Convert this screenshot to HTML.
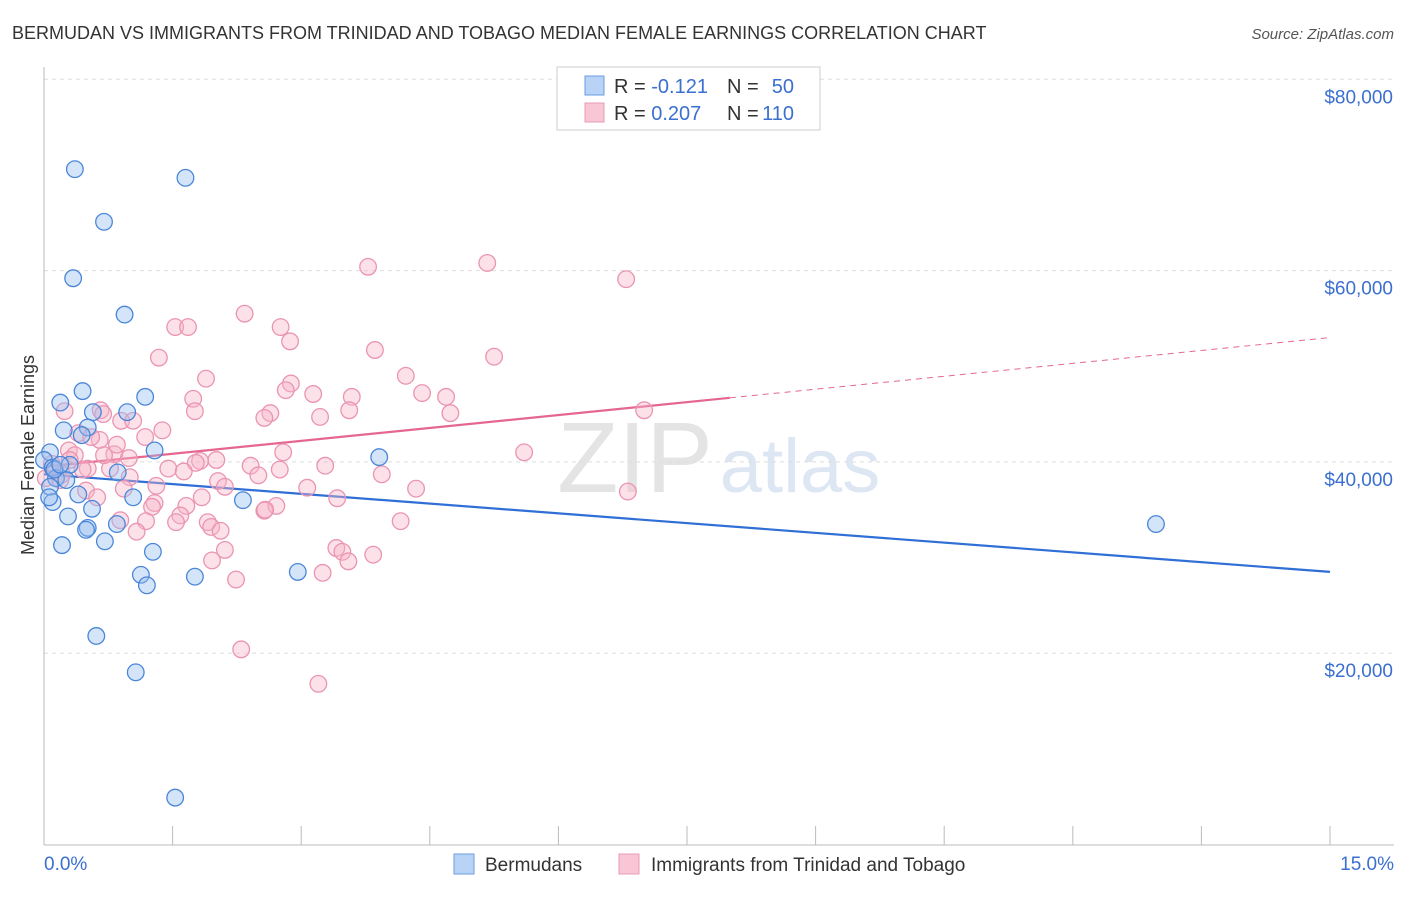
<!DOCTYPE html>
<html><head><meta charset="utf-8">
<style>
body{margin:0;background:#fff;font-family:"Liberation Sans",sans-serif;}
svg text{font-family:"Liberation Sans",sans-serif;}
</style></head><body>
<svg id="chart" width="1406" height="892">
<text x="12" y="39" font-size="18" fill="#333">BERMUDAN VS IMMIGRANTS FROM TRINIDAD AND TOBAGO MEDIAN FEMALE EARNINGS CORRELATION CHART</text>
<text x="1394" y="39" font-size="15" fill="#555" font-style="italic" text-anchor="end">Source: ZipAtlas.com</text>
<text x="635" y="492" font-size="100" fill="#e4e4e4" font-family="Liberation Serif" text-anchor="middle">ZIP</text>
<text x="800" y="492" font-size="76" fill="#dde6f3" text-anchor="middle">atlas</text>
<g id="grid"></g>
<g id="axes"></g>
<g id="trend"></g>
<g id="pts"></g>
<text transform="translate(34,455) rotate(-90)" font-size="18" fill="#333" text-anchor="middle">Median Female Earnings</text>
<g>
<rect x="557" y="67" width="263" height="63" fill="#fff" stroke="#ccc"/>
<rect x="585" y="76" width="19" height="19" fill="#b8d3f5" stroke="#6a9de0"/>
<rect x="585" y="103" width="19" height="19" fill="#f9c6d5" stroke="#eb9ab5"/>
<text x="614" y="93" font-size="20" fill="#333">R = <tspan fill="#3b6fd0">-0.121</tspan></text>
<text x="727" y="93" font-size="20" fill="#333">N =</text>
<text x="794" y="93" font-size="20" fill="#3b6fd0" text-anchor="end">50</text>
<text x="614" y="120" font-size="20" fill="#333">R = <tspan fill="#3b6fd0">0.207</tspan></text>
<text x="727" y="120" font-size="20" fill="#333">N =</text>
<text x="794" y="120" font-size="20" fill="#3b6fd0" text-anchor="end">110</text>
</g>
<g>
<rect x="454" y="854" width="20" height="20" fill="#b8d3f5" stroke="#6a9de0"/>
<text x="485" y="871" font-size="19" fill="#333">Bermudans</text>
<rect x="619" y="854" width="20" height="20" fill="#f9c6d5" stroke="#eb9ab5"/>
<text x="651" y="871" font-size="19" fill="#333">Immigrants from Trinidad and Tobago</text>
</g>
<text x="44" y="870" font-size="19" fill="#3b6fd0">0.0%</text>
<text x="1394" y="870" font-size="19" fill="#3b6fd0" text-anchor="end">15.0%</text>
</svg>
<script>
const yTicks=[20000,40000,60000,80000];
const yTickLabels=["$20,000","$40,000","$60,000","$80,000"];
const xTicks=[0,1.5,3,4.5,6,7.5,9,10.5,12,13.5,15];
const blueX=[0.36,1.65,0.70,0.34,0.94,0.45,1.18,0.19,0.57,0.97,0.23,0.51,0.44,1.29,3.91,0.07,0.0,0.10,0.30,0.86,0.14,0.26,0.07,0.40,1.04,2.32,0.10,0.56,0.28,0.51,0.85,0.49,0.71,0.21,1.27,2.96,1.13,1.76,1.20,0.61,1.07,1.53,12.97,0.06,0.12,0.19];
const blueY=[70.6,69.7,65.1,59.2,55.4,47.4,46.8,46.2,45.2,45.2,43.3,43.6,42.8,41.2,40.5,41.0,40.2,39.4,39.7,38.9,38.3,38.1,37.4,36.6,36.3,36.0,35.8,35.1,34.3,33.1,33.5,32.9,31.7,31.3,30.6,28.5,28.2,28.0,27.1,21.8,18.0,4.9,33.5,36.3,39.2,39.7];
const pinkX=[5.17,3.78,6.79,2.34,1.53,1.68,2.76,2.87,3.86,5.25,1.34,1.89,4.22,2.88,1.74,4.41,4.69,3.14,3.59,2.82,7.00,1.76,0.24,0.66,0.69,3.56,4.74,3.22,2.64,2.57,0.90,1.04,1.38,0.40,1.18,0.65,2.79,0.29,0.36,0.82,5.60,0.99,1.82,2.01,1.77,2.41,3.28,1.45,1.63,0.77,0.51,0.13,0.21,3.94,2.03,1.00,1.31,0.93,3.07,4.34,0.49,0.62,1.84,3.42,6.81,1.29,1.26,1.66,1.59,2.57,2.71,2.58,0.89,1.54,1.19,1.91,4.16,1.95,2.06,1.08,3.41,3.48,3.55,3.84,2.11,1.96,2.24,3.25,2.30,3.20,0.19,0.02,0.09,0.30,0.45,0.55,0.70,0.85,2.11,2.50,2.75];
const pinkY=[60.8,60.4,59.1,55.5,54.1,54.1,54.1,52.6,51.7,51.0,50.9,48.7,49.0,48.2,46.6,47.2,46.8,47.1,46.8,47.5,45.4,45.3,45.3,45.4,45.0,45.4,45.1,44.7,45.1,44.6,44.3,44.3,43.3,43.0,42.6,42.3,41.0,41.2,40.7,40.8,41.0,40.4,40.1,40.2,39.9,39.6,39.6,39.3,39.0,39.3,39.3,39.2,38.7,38.7,38.0,38.4,37.5,37.2,37.3,37.2,37.0,36.3,36.3,36.2,36.9,35.7,35.3,35.4,34.4,34.9,35.4,35.0,33.9,33.7,33.8,33.7,33.8,33.2,32.8,32.7,31.0,30.6,29.6,30.3,30.8,29.7,27.7,28.4,20.4,16.8,38.1,38.3,39.8,40.2,39.2,42.6,40.7,41.8,37.4,38.6,39.2];
const blueTrend=[38.7,28.5];
const pinkTrend=[39.5,53.0];
const pinkSolidEnd=8.0;

const NS="http://www.w3.org/2000/svg";
const X=v=>44+v/15*1286;
const Y=k=>844.5-k/20*191.3;
function mk(tag,attrs,parent){const e=document.createElementNS(NS,tag);for(const a in attrs)e.setAttribute(a,attrs[a]);document.getElementById(parent).appendChild(e);return e;}
yTicks.forEach((t,i)=>{
  const l=mk('line',{x1:44,x2:1394,y1:Y(t/1000),y2:Y(t/1000),stroke:'#ddd','stroke-dasharray':'4,4'},'grid');
  
  
  const tx=mk('text',{x:1393,y:Y(t/1000)+24,'font-size':19,fill:'#3b6fd0','text-anchor':'end'},'grid');
  tx.textContent=yTickLabels[i];
  
  
});
const ax=mk('line',{x1:44,x2:1394,y1:845,y2:845,stroke:'#bbb'},'axes');


const ay=mk('line',{x1:44,x2:44,y1:67,y2:845,stroke:'#bbb'},'axes');


xTicks.forEach(t=>{
  const l=mk('line',{x1:X(t),x2:X(t),y1:826,y2:845,stroke:'#bbb'},'axes');
  
  
});
function dot(x,y,fill,stroke,name){
  const c=mk('circle',{cx:X(x),cy:Y(y),r:8.3,fill:fill,stroke:stroke,'stroke-width':1.3},'pts');
  
  
}
pinkX.forEach((x,i)=>dot(x,pinkY[i],'rgba(248,180,200,0.4)','#ea94b2','immigrant-point'));
blueX.forEach((x,i)=>dot(x,blueY[i],'rgba(150,190,240,0.4)','#4a86d8','bermudan-point'));
const bt=mk('line',{x1:X(0),y1:Y(blueTrend[0]),x2:X(15),y2:Y(blueTrend[1]),stroke:'#2f6fd6','stroke-width':2.2},'trend');


const pm=pinkTrend[0]+(pinkTrend[1]-pinkTrend[0])*pinkSolidEnd/15;
const pt=mk('line',{x1:X(0),y1:Y(pinkTrend[0]),x2:X(pinkSolidEnd),y2:Y(pm),stroke:'#e5668f','stroke-width':2.2},'trend');


const pd=mk('line',{x1:X(pinkSolidEnd),y1:Y(pm),x2:X(15),y2:Y(pinkTrend[1]),stroke:'#e5668f','stroke-width':1,'stroke-dasharray':'6,5'},'trend');


</script>
</body></html>
